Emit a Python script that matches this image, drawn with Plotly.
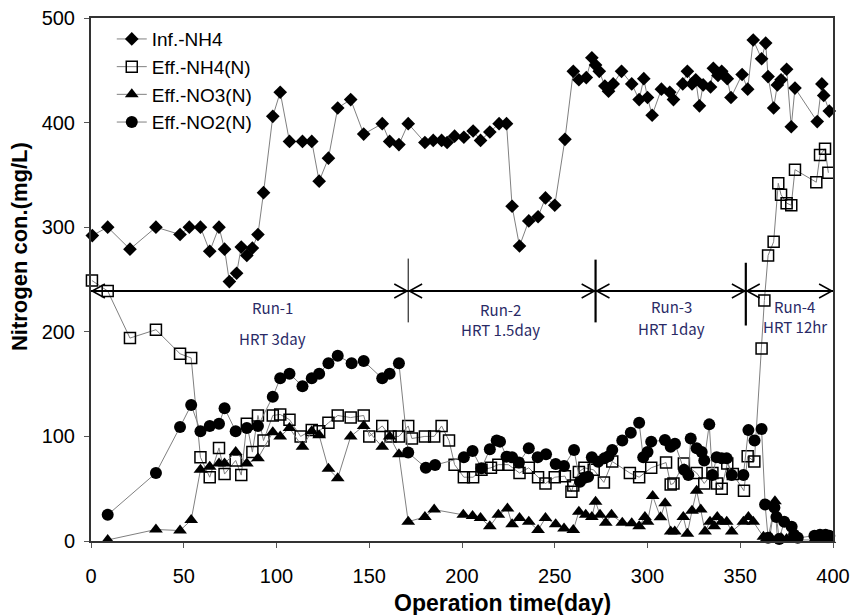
import plotly.graph_objects as go

# ---------------- data ----------------
inf_day = [0.7, 9, 21, 35, 48, 53, 59, 64, 69, 72, 74.6, 78.5, 81, 84, 87, 90, 93, 98, 102, 107,
           114, 119, 123, 128, 133, 140, 147, 157, 161, 166, 171, 180, 184.5, 189, 192, 196, 201,
           206, 210, 215, 220, 224, 227, 231, 236, 241, 245, 250, 255.5, 260, 263, 267, 270, 272,
           274, 277, 279, 281.5, 286, 291.5, 295.5, 298, 300, 302.5, 307.5, 312, 314, 319, 321.5,
           324, 326, 328, 330, 334, 335.5, 338, 340, 343, 345, 351, 354, 357, 361.5, 363.7, 365,
           368, 370, 372, 375, 377.5, 379.5, 391.5, 394, 395, 398]
inf_val = [292, 300, 279, 300, 293, 300, 300, 277, 300, 279, 248, 256, 281, 273, 280, 293, 333, 406,
           429, 382, 382, 382, 344, 366, 414, 422, 389, 399, 382, 379, 399, 381, 383, 383, 381, 387,
           386, 392, 383, 391, 399, 399, 320, 282, 306, 310, 328, 321, 384, 449, 441, 443, 462, 455,
           449, 435, 430, 437, 449, 437, 422, 442, 424, 407, 432, 429, 422, 437, 449, 437, 441, 416,
           436, 434, 452, 445, 449, 442, 424, 446, 432, 479, 461, 476, 444, 414, 436, 441, 451, 396,
           433, 401, 437, 426, 411]

nh4_day = [0.5, 9, 21, 35, 48, 54, 59, 64, 69, 72, 78, 81, 84, 87, 90, 93, 98, 102, 107, 113, 119,
           123, 128, 133, 140, 147, 150, 157, 161.5, 166, 171, 173, 180, 185, 189, 193, 196, 201,
           206, 210.5, 215.6, 219.6, 225, 231, 236, 241, 245, 250, 255.5, 259, 260, 263, 266, 271,
           276.5, 281, 290.5, 295.5, 302, 310, 312.5, 314, 319.6, 326.5, 330.6, 335, 337.5, 340,
           343, 346, 352, 354, 357.6, 361.5, 363, 365, 368, 370.5, 372, 375, 377.5, 379.5, 391,
           393, 395.7, 397.5]
nh4_val = [249, 239, 194, 202, 179, 175, 80, 61, 89, 64, 77, 63, 112, 85, 120, 96, 120, 121, 116,
           100, 106, 105, 113, 120, 118, 120, 100, 110, 100, 100, 110, 98, 100, 100, 110, 96, 73, 61,
           61, 68, 70, 73, 73, 65, 70, 61, 55, 61, 62, 47, 53, 66, 70, 68, 56, 76, 65, 61, 70, 75,
           54, 55, 74, 65, 55, 65, 55, 50, 74, 64, 48, 81, 76, 184, 230, 273, 286, 342, 331, 323,
           321, 355, 343, 369, 375, 352]

no3_day = [9, 35, 48, 54, 59, 64, 69, 72, 78, 84, 90, 98, 102, 107, 114, 119, 123, 128, 133, 140,
           147, 157, 161, 166, 171, 180, 185, 200.7, 205.7, 210, 215, 219.6, 224.5, 227, 231, 236,
           241, 245, 250.5, 255, 260, 263, 266.7, 270, 272, 274.4, 277.5, 280.6, 286.4, 291.5,
           295.5, 298.6, 300, 302.8, 307, 309.5, 312.5, 314.7, 319.3, 321.5, 324, 326.5, 328.7,
           331, 333.7, 336, 337.6, 340, 342.7, 345.4, 351.7, 354.4, 357, 362.5, 364, 366, 368.7,
           370, 372, 375, 378, 380, 390, 393, 396, 398]
no3_val = [1, 11, 10, 20, 68, 71, 74, 74, 85, 74, 79, 104, 100, 108, 90, 105, 101, 69, 60, 100,
           110, 90, 100, 83, 18.5, 23, 30, 25, 24, 22, 14, 25, 31, 16, 22, 18.5, 10.5, 22, 16, 12,
           10.5, 28, 25, 23, 37.6, 25, 17.5, 25, 17.5, 17, 14, 23, 18.5, 43, 22.6, 36, 9, 9, 23, 7,
           29, 48, 30, 9, 18.5, 14, 23, 18.5, 18.5, 9, 18.5, 23, 18.5, 4, 2, 4, 38, 2, 3, 2, 2, 1,
           1, 1, 1, 1]

no2_day = [9, 35, 48, 54, 59, 64, 69, 72, 78, 84, 90, 98, 102, 107, 114, 119, 123, 128, 133,
           140.5, 147, 157, 161, 166, 171, 180.5, 185.5, 201, 205.7, 210.5, 215, 218.7, 220.5, 224,
           227, 230.7, 236, 240.8, 245.3, 250.5, 255, 260.4, 263.6, 266, 268, 270, 273.4, 276.7,
           279, 281, 286.4, 291, 295.5, 297.7, 300, 302, 309.4, 312.5, 314.8, 319.7, 322, 323.3,
           326.5, 329.2, 330.6, 333.3, 335, 337.3, 340, 342.7, 345.4, 351.7, 354.4, 357.7, 361.5,
           363.4, 365, 368.4, 369.5, 371, 373.7, 377.7, 379, 381, 390, 393, 396, 398]
no2_val = [25, 65, 109, 130, 105, 110, 112, 127, 105, 108, 110, 138, 155.5, 160, 148, 155.5, 160,
           170, 177, 170, 172, 155.5, 160, 170, 84.5, 70, 72.6, 80, 86, 69.5, 87.7, 96, 95, 80.6,
           80, 75, 88.6, 80, 83, 73.6, 71.7, 87, 56.7, 60.5, 61.5, 80, 75.8, 79, 81, 87, 96, 103.5,
           113, 80, 85, 95, 96.5, 90, 93, 68, 63, 98, 88.6, 85, 77, 111.5, 63, 80, 79, 79, 63, 63,
           106, 96, 107, 35, 3, 32, 23, 2, 18.5, 13.7, 6, 3, 5, 6, 6, 5]

run_bounds = [0, 171, 272, 353, 400]
run_labels = ["Run-1", "Run-2", "Run-3", "Run-4"]
hrt_labels = ["HRT 3day", "HRT 1.5day", "HRT 1day", "HRT 12hr"]
label_x = [98, 221, 313, 379.5]
run_label_y = [223, 221, 224, 224]
hrt_label_y = [194, 202, 203, 205]
arrow_y = 239
divider_top = [270, 269, 266]
divider_bottom = [209, 209, 206]
divider_width = [1, 2.2, 2.2]

x_range = [0, 400]
y_range = [0, 500]
x_title = "Operation time(day)"
y_title = "Nitrogen con.(mg/L)"

# ---------------- figure ----------------
fig = go.Figure()
line_style = dict(color="#808080", width=1)

series = [
    ("Inf.-NH4", inf_day, inf_val, dict(symbol="diamond", size=10.5, color="black")),
    ("Eff.-NH4(N)", nh4_day, nh4_val, dict(symbol="square-open", size=11, color="black",
                                           line=dict(width=1.5, color="#222"))),
    ("Eff.-NO3(N)", no3_day, no3_val, dict(symbol="triangle-up", size=12, color="black")),
    ("Eff.-NO2(N)", no2_day, no2_val, dict(symbol="circle", size=12, color="black")),
]
for name, xs, ys, mk in series:
    fig.add_trace(go.Scatter(x=xs, y=ys, name=name, mode="lines+markers",
                             line=line_style, marker=mk, cliponaxis=False))

dx = 7.5   # days (~14 px)
dy = 6.7   # mg/L (~7 px)

shapes = []
for i in range(len(run_bounds) - 1):
    x0, x1 = run_bounds[i], run_bounds[i + 1]
    shapes.append(dict(type="line", xref="x", yref="y", x0=x0, x1=x1, y0=arrow_y, y1=arrow_y,
                       line=dict(color="black", width=2)))
    shapes.append(dict(type="path", xref="x", yref="y",
                       path="M %f,%f L %f,%f L %f,%f" % (x0 + dx, arrow_y + dy, x0 + 0.6, arrow_y,
                                                          x0 + dx, arrow_y - dy),
                       line=dict(color="black", width=1.5)))
    shapes.append(dict(type="path", xref="x", yref="y",
                       path="M %f,%f L %f,%f L %f,%f" % (x1 - dx, arrow_y + dy, x1 - 0.6, arrow_y,
                                                          x1 - dx, arrow_y - dy),
                       line=dict(color="black", width=1.5)))
for j, xb in enumerate(run_bounds[1:-1]):
    shapes.append(dict(type="line", xref="x", yref="y", x0=xb, x1=xb,
                       y0=divider_bottom[j], y1=divider_top[j],
                       line=dict(color="black", width=divider_width[j])))

annotations = []
ann_font = dict(family="Noto Sans CJK KR, Noto Sans", size=15, color="#2a2a66")
for k in range(len(run_labels)):
    annotations.append(dict(x=label_x[k], y=run_label_y[k], xref="x", yref="y",
                            text=run_labels[k], showarrow=False, font=ann_font))
    annotations.append(dict(x=label_x[k], y=hrt_label_y[k], xref="x", yref="y",
                            text=hrt_labels[k], showarrow=False, font=ann_font))

# axis titles (placed slightly off-centre as in the reference)
title_font = dict(family="Liberation Sans, Arial", size=23, color="black")
annotations.append(dict(x=0.554, y=-0.118, xref="paper", yref="paper", xanchor="center",
                        yanchor="middle", text="<b>%s</b>" % x_title, showarrow=False,
                        font=title_font))
annotations.append(dict(x=-0.097, y=0.562, xref="paper", yref="paper", xanchor="center",
                        yanchor="middle", textangle=-90, text="<b>%s</b>" % y_title,
                        showarrow=False, font=dict(family="Liberation Sans, Arial", size=22,
                                                   color="black")))

axis_common = dict(showgrid=False, zeroline=False, showline=True, linecolor="#333333",
                   linewidth=2, mirror=True, ticks="outside", ticklen=5, tickcolor="#555555",
                   tickfont=dict(family="Liberation Sans, Arial", size=20, color="black"))

fig.update_layout(
    width=852, height=615,
    margin=dict(l=91, r=19, t=18, b=74, autoexpand=False),
    paper_bgcolor="white", plot_bgcolor="white",
    shapes=shapes, annotations=annotations,
    showlegend=True,
    legend=dict(x=0.028, y=0.996, xanchor="left", yanchor="top",
                bgcolor="rgba(0,0,0,0)",
                font=dict(family="Liberation Sans, Arial", size=19, color="black")),
    xaxis=dict(range=x_range, tickvals=[0, 50, 100, 150, 200, 250, 300, 350, 400],
               ticklabelstandoff=11, **axis_common),
    yaxis=dict(range=y_range, tickvals=[0, 100, 200, 300, 400, 500],
               ticklabelstandoff=5, **axis_common),
)

fig.write_html("out.html", config={"displayModeBar": False},
               post_script="document.body.style.margin='0px';")
